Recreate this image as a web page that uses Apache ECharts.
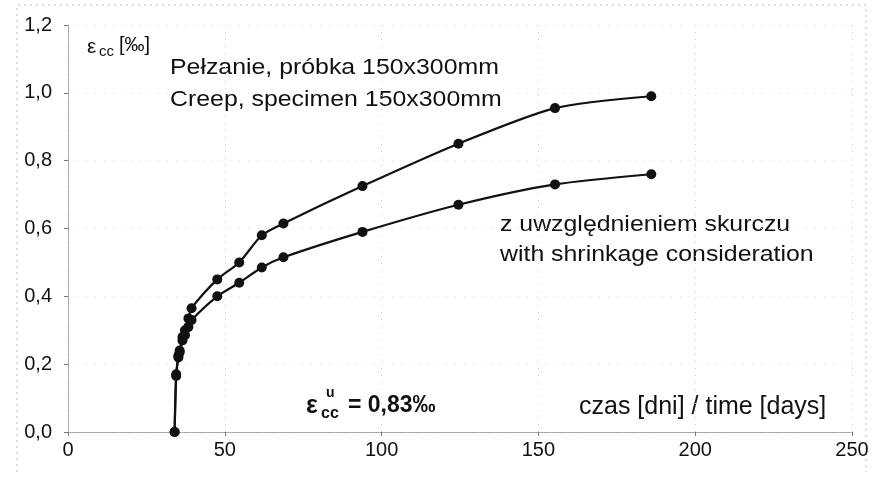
<!DOCTYPE html>
<html>
<head>
<meta charset="utf-8">
<script src="https://cdn.jsdelivr.net/npm/echarts@6/dist/echarts.min.js"></script>
<style>
  html, body { margin: 0; padding: 0; background: #fff; }
  #chart { width: 873px; height: 482px; }
</style>
</head>
<body>
<div id="chart"></div>
<script>
var days = [34, 34.5, 35.2, 35.6, 36.5, 37.3, 38.4, 39.4, 47.6, 54.6, 61.8, 68.7, 93.9, 124.5, 155.3, 186];
// creep strain [‰]
var creep = [0, 0.17, 0.225, 0.24, 0.28, 0.30, 0.335, 0.365, 0.45, 0.50, 0.58, 0.615, 0.725, 0.85, 0.955, 0.99];
// creep with shrinkage consideration [‰]
var creepShrink = [0, 0.165, 0.22, 0.235, 0.27, 0.285, 0.31, 0.33, 0.40, 0.44, 0.485, 0.515, 0.59, 0.67, 0.73, 0.76];

var xTicks = [0, 50, 100, 150, 200, 250];
var yTicks = [0, 0.2, 0.4, 0.6, 0.8, 1.0, 1.2];

function pairs(xs, ys) {
    return xs.map(function (x, i) { return [x, ys[i]]; });
}

var sans = '"Liberation Sans", Arial, sans-serif';

var lineStyle = { color: '#111', width: 2.2 };
var itemStyle = { color: '#111' };

// annotation text, positioned by its left edge and vertical centre
function label(x, y, text, font, sx) {
    return {
        type: 'text', x: x, y: y, scaleX: sx || 1, silent: true,
        style: { text: text, font: font, fill: '#111', textAlign: 'left', textVerticalAlign: 'middle' }
    };
}

var option = {
    backgroundColor: '#fff',
    animation: false,
    grid: { left: 68, right: 21, top: 25, bottom: 50 },
    xAxis: {
        type: 'value',
        min: xTicks[0],
        max: xTicks[xTicks.length - 1],
        interval: 50,
        axisLine: { show: true, lineStyle: { color: '#999', type: 'dotted', width: 1 } },
        axisTick: { show: true, length: 4, lineStyle: { color: '#777' } },
        axisLabel: { color: '#111', fontSize: 20, fontFamily: sans, margin: 8 },
        splitLine: { show: true, lineStyle: { color: '#ccc', type: [1, 6], width: 1 } }
    },
    yAxis: {
        type: 'value',
        min: yTicks[0],
        max: yTicks[yTicks.length - 1],
        interval: 0.2,
        axisLine: { show: true, lineStyle: { color: '#999', type: 'dotted', width: 1 } },
        axisTick: { show: true, length: 4, lineStyle: { color: '#777' } },
        axisLabel: {
            color: '#111', fontSize: 20, fontFamily: sans, margin: 16,
            formatter: function (v) { return v.toFixed(1).replace('.', ','); }
        },
        splitLine: { show: true, lineStyle: { color: '#e2e2e2', type: [1, 8], width: 1 } }
    },
    series: [
        {
            name: 'Creep',
            type: 'line',
            data: pairs(days, creep),
            smooth: 0.25,
            symbol: 'circle',
            symbolSize: 10,
            lineStyle: lineStyle,
            itemStyle: itemStyle
        },
        {
            name: 'Creep with shrinkage',
            type: 'line',
            data: pairs(days, creepShrink),
            smooth: 0.25,
            symbol: 'circle',
            symbolSize: 10,
            lineStyle: lineStyle,
            itemStyle: itemStyle
        }
    ],
    graphic: [
        // outer dotted frame of the scanned chart
        {
            type: 'polyline', silent: true,
            shape: { points: [[17, 472], [17, 5], [866, 5], [866, 472]] },
            style: { stroke: '#bbb', lineWidth: 1, lineDash: [2, 4], fill: null }
        },
        // y axis title
        label(87, 47, 'ε', '21px ' + sans),
        label(99, 52, 'cc', '15px ' + sans),
        label(119, 45, '[‰]', '20px ' + sans),
        // titles
        label(170, 68, 'Pełzanie, próbka 150x300mm', '22px ' + sans, 1.13),
        label(170, 100, 'Creep, specimen 150x300mm', '22px ' + sans, 1.13),
        label(500, 225, 'z uwzględnieniem skurczu', '22px ' + sans, 1.13),
        label(500, 255, 'with shrinkage consideration', '22px ' + sans, 1.13),
        // ultimate strain
        label(306, 406, 'ε', 'bold 25px ' + sans),
        label(321, 414, 'cc', 'bold 16px ' + sans),
        label(326, 393, 'u', 'bold 14px ' + sans),
        label(348, 406, '= 0,83‰', 'bold 23px ' + sans),
        // axis title
        label(579, 407, 'czas [dni] / time [days]', '25px ' + sans)
    ]
};

var chart = echarts.init(document.getElementById('chart'));
chart.setOption(option);
</script>
</body>
</html>
